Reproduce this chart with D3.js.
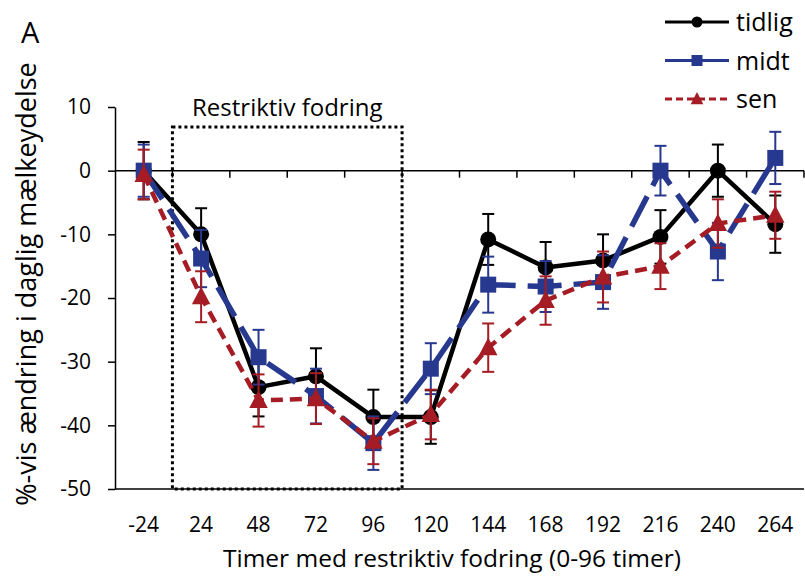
<!DOCTYPE html>
<html lang="da">
<head>
<meta charset="UTF-8">
<title>Mælkeydelse</title>
<script src="https://cdn.jsdelivr.net/npm/d3@7"></script>
<style>
  body { margin: 0; background: #fff; }
  svg text { font-family: "Open Sans", "Noto Sans", sans-serif; fill: #000; }
</style>
</head>
<body>
<script>
const hours = ["-24", "24", "48", "72", "96", "120", "144", "168", "192", "216", "240", "264"];
const yTicks = [10, 0, -10, -20, -30, -40, -50];

const tidlig    = [0, -10, -34, -32.3, -38.7, -38.7, -10.8, -15.2, -14.1, -10.4, 0, -8.4];
const tidligErr = [4.5, 4.1, 4.6, 4.4, 4.3, 4.2, 4.0, 4.0, 4.1, 4.2, 4.1, 4.5];
const midt      = [0, -13.8, -29.3, -35.4, -42.8, -31.1, -17.9, -18.2, -17.5, 0, -12.7, 2];
const midtErr   = [4.1, 4.5, 4.3, 4.3, 4.2, 4.0, 4.4, 4.0, 4.2, 3.9, 4.5, 4.1];
const sen       = [-0.6, -19.8, -36.1, -35.8, -42.5, -38.3, -27.8, -20.4, -16.7, -15.0, -8.3, -7.0];
const senErr    = [3.9, 4.0, 4.1, 4.0, 3.6, 3.9, 3.8, 3.8, 4.0, 3.6, 3.8, 3.7];

const width = 805;
const height = 576;
const marginLeft = 115;
const marginRight = 1;
const marginTop = 107;
const marginBottom = 87;

const series = [
  { name: "tidlig", values: tidlig, err: tidligErr, color: "#000000", width: 4.5, dash: null, marker: "circle" },
  { name: "midt", values: midt, err: midtErr, color: "#27388f", width: 5.5, dash: "34,12", marker: "square" },
  { name: "sen", values: sen, err: senErr, color: "#a51c24", width: 4.5, dash: "12,7", marker: "triangle" }
];

const x = d3.scaleBand()
  .domain(hours)
  .range([marginLeft, width - marginRight])
  .padding(0);

const y = d3.scaleLinear()
  .domain([-50, 10])
  .range([height - marginBottom, marginTop]);

const svg = d3.select("body").append("svg")
  .attr("width", width)
  .attr("height", height)
  .attr("viewBox", [0, 0, width, height]);

// y axis
svg.append("g")
  .attr("transform", `translate(${marginLeft},0)`)
  .call(d3.axisLeft(y).tickValues(yTicks).tickFormat(d => String(d))
    .tickSize(7).tickPadding(17).tickSizeOuter(0))
  .call(g => g.select(".domain").attr("stroke-width", 1.5))
  .call(g => g.selectAll(".tick line").attr("stroke-width", 1.5))
  .call(g => g.selectAll(".tick text").attr("font-size", 21).attr("font-family", null));

// bottom line
svg.append("line")
  .attr("x1", marginLeft).attr("x2", width - marginRight)
  .attr("y1", y(-50)).attr("y2", y(-50))
  .attr("stroke", "#000").attr("stroke-width", 1.5);

// zero line with category ticks between points
const zero = svg.append("g");
zero.append("line")
  .attr("x1", marginLeft).attr("x2", width - marginRight)
  .attr("y1", y(0)).attr("y2", y(0))
  .attr("stroke", "#000").attr("stroke-width", 1.5);
zero.selectAll("line.tk")
  .data(hours)
  .join("line")
  .attr("class", "tk")
  .attr("x1", d => x(d) + x.bandwidth())
  .attr("x2", d => x(d) + x.bandwidth())
  .attr("y1", y(0)).attr("y2", y(0) + 7)
  .attr("stroke", "#000").attr("stroke-width", 1.5);

// category labels at bottom
svg.append("g")
  .selectAll("text")
  .data(hours)
  .join("text")
  .attr("x", d => x(d) + x.bandwidth() / 2)
  .attr("y", y(-50) + 43)
  .attr("text-anchor", "middle")
  .attr("font-size", 21)
  .text(d => d);

// restriktiv fodring box
const boxLeft = x("24");
const boxRight = x("120");
svg.append("rect")
  .attr("x", boxLeft)
  .attr("y", 127)
  .attr("width", boxRight - boxLeft)
  .attr("height", y(-50) - 127)
  .attr("fill", "none")
  .attr("stroke", "#000")
  .attr("stroke-width", 3)
  .attr("stroke-dasharray", "3,3");

svg.append("text")
  .attr("x", (boxLeft + boxRight) / 2)
  .attr("y", 116)
  .attr("text-anchor", "middle")
  .attr("font-size", 24)
  .text("Restriktiv fodring");

const cx = d => x(d) + x.bandwidth() / 2;

const drawMarker = (sel, s, size) => {
  if (s.marker === "circle") {
    sel.append("circle").attr("r", size * 0.5).attr("fill", s.color);
  } else if (s.marker === "square") {
    sel.append("rect")
      .attr("x", -size * 0.5).attr("y", -size * 0.5)
      .attr("width", size).attr("height", size)
      .attr("fill", s.color);
  } else {
    const h = size * 1.05;
    sel.append("path")
      .attr("d", `M0,${-h * 0.6}L${h * 0.55},${h * 0.45}L${-h * 0.55},${h * 0.45}Z`)
      .attr("fill", s.color);
  }
};

series.forEach(s => {
  const g = svg.append("g");

  // error bars
  const eb = g.append("g").attr("stroke", s.color).attr("stroke-width", 2);
  hours.forEach((h, i) => {
    const top = y(s.values[i] + s.err[i]);
    const bot = y(s.values[i] - s.err[i]);
    const xc = cx(h);
    eb.append("line").attr("x1", xc).attr("x2", xc).attr("y1", top).attr("y2", bot);
    eb.append("line").attr("x1", xc - 6).attr("x2", xc + 6).attr("y1", top).attr("y2", top);
    eb.append("line").attr("x1", xc - 6).attr("x2", xc + 6).attr("y1", bot).attr("y2", bot);
  });

  const line = d3.line()
    .x((d, i) => cx(hours[i]))
    .y(d => y(d));

  g.append("path")
    .datum(s.values)
    .attr("fill", "none")
    .attr("stroke", s.color)
    .attr("stroke-width", s.width)
    .attr("stroke-dasharray", s.dash)
    .attr("stroke-linejoin", "round")
    .attr("d", line);

  s.values.forEach((v, i) => {
    const m = g.append("g").attr("transform", `translate(${cx(hours[i])},${y(v)})`);
    drawMarker(m, s, 16);
  });
});

// legend
const legend = svg.append("g");
series.forEach((s, i) => {
  const ly = 22 + i * 38.5;
  legend.append("line")
    .attr("x1", 665).attr("x2", 729)
    .attr("y1", ly).attr("y2", ly)
    .attr("stroke", s.color)
    .attr("stroke-width", 3)
    .attr("stroke-dasharray", s.marker === "triangle" ? "7,4" : null);
  const m = legend.append("g").attr("transform", `translate(697,${ly})`);
  drawMarker(m, s, 11);
  legend.append("text")
    .attr("x", 736)
    .attr("y", ly + 9)
    .attr("font-size", 25)
    .text(s.name);
});

svg.append("text")
  .attr("x", 21).attr("y", 43)
  .attr("font-size", 29)
  .text("A");

svg.append("text")
  .attr("transform", `translate(36,284) rotate(-90)`)
  .attr("text-anchor", "middle")
  .attr("font-size", 27)
  .text("%-vis ændring i daglig mælkeydelse");

svg.append("text")
  .attr("x", 452)
  .attr("y", 567)
  .attr("text-anchor", "middle")
  .attr("font-size", 24.5)
  .text("Timer med restriktiv fodring (0-96 timer)");
</script>
</body>
</html>
